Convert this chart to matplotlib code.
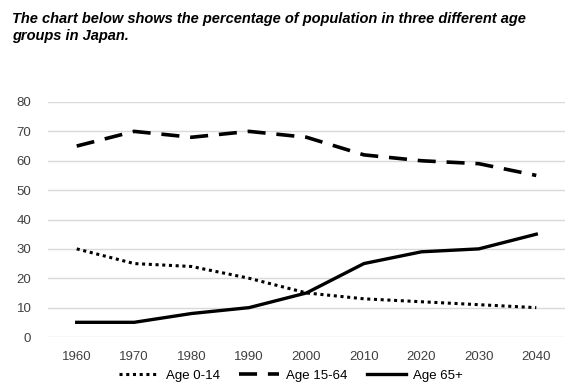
import numpy as np
import matplotlib.pyplot as plt

years = ['1960', '1970', '1980', '1990', '2000', '2010', '2020', '2030', '2040']
age_0_14 = [30, 25, 24, 20, 15, 13, 12, 11, 10]
age_15_64 = [65, 70, 68, 70, 68, 62, 60, 59, 55]
age_65 = [5, 5, 8, 10, 15, 25, 29, 30, 35]

plt.rcParams['font.family'] = ['Liberation Sans', 'DejaVu Sans']

fig = plt.figure(figsize=(5.82, 3.88), dpi=100)
ax = fig.add_axes([48 / 582, 1 - 337 / 388, 517 / 582, 235 / 388])

x = np.arange(len(years))
ax.plot(x, age_0_14, color='black', lw=2.2, linestyle=(0, (1, 1.2)), label='Age 0-14')
ax.plot(x, age_15_64, color='black', lw=2.6, linestyle=(0, (5, 3)), label='Age 15-64')
ax.plot(x, age_65, color='black', lw=2.4, label='Age 65+')

ax.set_xlim(-0.5, len(years) - 0.5)
ax.set_ylim(0, 80)
ax.set_yticks(range(0, 81, 10))
ax.set_xticks(x)
ax.set_xticklabels(years)
ax.grid(axis='y', color='#d9d9d9', lw=1)
ax.set_axisbelow(True)
for s in ax.spines.values():
    s.set_visible(False)
ax.tick_params(length=0, labelsize=9.5, colors='#404040', pad=10)
ax.tick_params(axis='y', pad=12)

fig.text(0.02, 0.97, 'The chart below shows the percentage of population in three different age\ngroups in Japan.',
         fontsize=10.5, fontweight='bold', fontstyle='italic', va='top', ha='left', linespacing=1.35)

fig.legend(loc='lower center', bbox_to_anchor=(0.5, -0.015), ncol=3, frameon=False,
           fontsize=9.5, handlelength=3, columnspacing=1.5, handletextpad=0.5)

fig.savefig('out.png', dpi=100)
